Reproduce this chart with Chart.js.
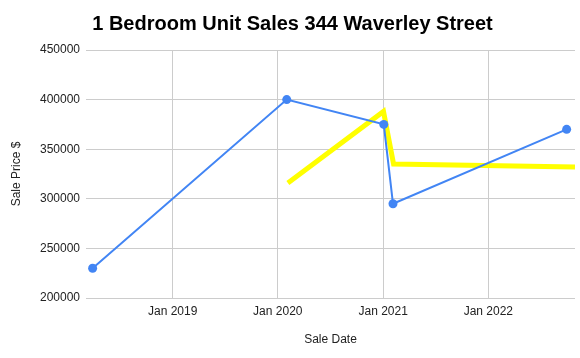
<!DOCTYPE html>
<html>
<head>
<meta charset="utf-8">
<script src="https://cdn.jsdelivr.net/npm/chart.js@4/dist/chart.umd.min.js"></script>
<style>
  html, body { margin: 0; padding: 0; background: #fff; }
  #wrap { width: 580px; height: 358px; position: relative; }
</style>
</head>
<body>
<div id="wrap"><canvas id="c"></canvas></div>
<script>
const chartTitle = '1 Bedroom Unit Sales 344 Waverley Street';
const saleDates = ['2018-03-29', '2020-02-01', '2021-01-03', '2021-02-04', '2022-09-30'];
const salePrices = [230000, 400000, 375000, 295000, 370000];
const trendDates = ['2020-02-05', '2021-01-02', '2021-02-06', '2022-10-29'];
const trendPrices = [316000, 388000, 335000, 332000];
const xTickDates = ['2019-01-01', '2020-01-01', '2021-01-01', '2022-01-01'];
const xTickLabels = ['Jan 2019', 'Jan 2020', 'Jan 2021', 'Jan 2022'];
const xRange = ['2018-03-06', '2022-10-29'];
const yTicks = [200000, 250000, 300000, 350000, 400000, 450000];

const t = s => Date.parse(s + 'T00:00:00Z');
const FONT = "'Liberation Sans', Arial, sans-serif";

new Chart(document.getElementById('c'), {
  type: 'line',
  data: {
    datasets: [
      {
        label: 'Sale Price',
        data: saleDates.map((d, i) => ({ x: t(d), y: salePrices[i] })),
        borderColor: '#4285f4',
        backgroundColor: '#4285f4',
        borderWidth: 2,
        pointRadius: 4.5,
        pointHoverRadius: 4.5,
        pointBorderWidth: 0,
        tension: 0,
        order: 1
      },
      {
        label: 'Trend',
        data: trendDates.map((d, i) => ({ x: t(d), y: trendPrices[i] })),
        borderColor: '#ffff00',
        backgroundColor: '#ffff00',
        borderWidth: 5,
        pointRadius: 0,
        tension: 0,
        order: 2
      }
    ]
  },
  options: {
    responsive: true,
    maintainAspectRatio: false,
    animation: false,
    layout: { padding: { left: 5, right: 0, top: 0, bottom: 0 } },
    plugins: {
      legend: { display: false },
      tooltip: { enabled: false },
      title: {
        display: true,
        text: chartTitle,
        align: 'center',
        fullSize: true,
        color: '#000',
        font: { family: FONT, size: 20, weight: 'bold' },
        padding: { top: 12, bottom: 14 }
      }
    },
    scales: {
      x: {
        type: 'linear',
        min: t(xRange[0]),
        max: t(xRange[1]),
        afterBuildTicks: s => { s.ticks = xTickDates.map(d => ({ value: t(d) })); },
        afterFit: s => { s.height = 60; },
        border: { display: false },
        grid: { color: '#cccccc', drawTicks: false },
        ticks: {
          padding: 6,
          color: '#222',
          font: { family: FONT, size: 12 },
          maxRotation: 0,
          autoSkip: false,
          callback: v => { const i = xTickDates.findIndex(d => t(d) === v); return i >= 0 ? xTickLabels[i] : ''; }
        },
        title: {
          display: true,
          text: 'Sale Date',
          color: '#222',
          font: { family: FONT, size: 12 },
          padding: { top: 0, bottom: 11 }
        }
      },
      y: {
        min: yTicks[0],
        max: yTicks[yTicks.length - 1],
        afterBuildTicks: s => { s.ticks = yTicks.map(v => ({ value: v })); },
        afterFit: s => { s.width = 81; },
        border: { display: false },
        grid: { color: '#cccccc', drawTicks: false },
        ticks: {
          padding: 6,
          color: '#222',
          font: { family: FONT, size: 12 },
          callback: v => String(v)
        },
        title: {
          display: true,
          text: 'Sale Price $',
          color: '#222',
          font: { family: FONT, size: 12 },
          padding: { top: 4, bottom: 0 }
        }
      },
      yRight: {
        type: 'linear',
        position: 'right',
        display: true,
        min: 0,
        max: 1,
        afterFit: s => { s.width = 5; },
        border: { display: false },
        grid: { display: false, drawTicks: false },
        ticks: { display: false },
        title: { display: false }
      }
    }
  }
});
</script>
</body>
</html>
